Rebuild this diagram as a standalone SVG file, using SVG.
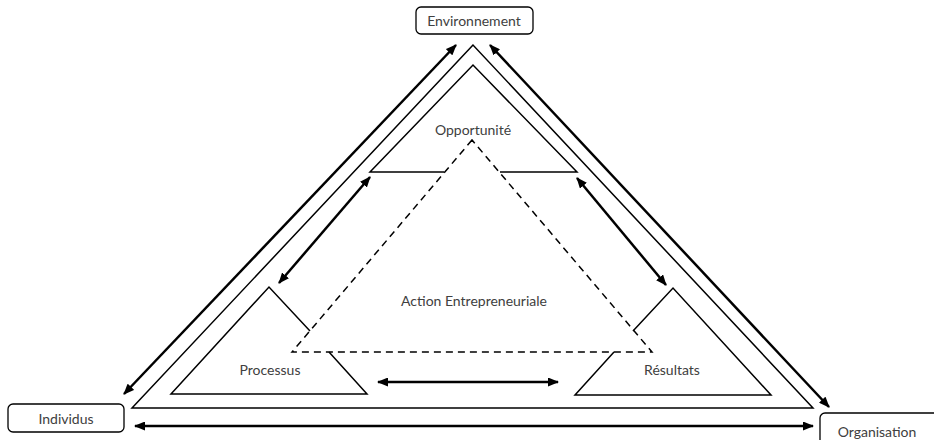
<svg xmlns="http://www.w3.org/2000/svg" width="934" height="440" viewBox="0 0 934 440">
<defs>
<style>
.t{font-family:"Lato","Liberation Sans",sans-serif;font-size:14px;fill:#404040;text-anchor:middle;dominant-baseline:central}
.thin{fill:none;stroke:#000;stroke-width:1.5;stroke-linejoin:miter}
.dash{fill:none;stroke:#000;stroke-width:1.5;stroke-dasharray:7,5}
.arr{fill:none;stroke:#000;stroke-width:2.5;marker-start:url(#ah);marker-end:url(#ah)}
.box{fill:#fff;stroke:#000;stroke-width:1.3}
</style>
<marker id="ah" markerUnits="userSpaceOnUse" markerWidth="11" markerHeight="9" refX="10" refY="4.5" orient="auto-start-reverse">
<path d="M0,0 L11,4.5 L0,9 z" fill="#000"/>
</marker>
</defs>
<rect width="934" height="440" fill="#fff"/>
<g id="outer-triangle">
<path class="thin" d="M473,45 L132,408 L813,408 Z"/>
</g>
<g id="opportunite">
<path class="thin" d="M444,172 L370,172 L473,65 L577,172 L500,172"/>
<text class="t" x="473" y="129">Opportunité</text>
</g>
<g id="processus">
<path class="thin" d="M310,331 L269,287 L171,394 L367,394 L329,352"/>
<text class="t" x="270" y="369">Processus</text>
</g>
<g id="resultats">
<path class="thin" d="M633,331 L673,288 L771,395 L575,395 L614,352"/>
<text class="t" x="672" y="369">Résultats</text>
</g>
<g id="action">
<path class="dash" d="M472,140 L292,352 L652,352 Z"/>
<text class="t" x="474" y="300">Action Entrepreneuriale</text>
</g>
<g id="environnement">
<rect class="box" x="416" y="7" width="117" height="27" rx="5"/>
<text class="t" x="474" y="20">Environnement</text>
</g>
<g id="individus">
<rect class="box" x="8" y="404" width="116" height="28" rx="5"/>
<text class="t" x="66" y="418">Individus</text>
</g>
<g id="organisation">
<rect class="box" x="820" y="413" width="130" height="40" rx="5"/>
<text class="t" x="877" y="431">Organisation</text>
</g>
<g id="connectors">
<line class="arr" x1="124" y1="394" x2="456" y2="45"/>
<line class="arr" x1="490" y1="45" x2="829" y2="407"/>
<line class="arr" x1="135" y1="426" x2="813" y2="426"/>
<line class="arr" x1="370" y1="177" x2="279" y2="283"/>
<line class="arr" x1="577" y1="178" x2="666" y2="285"/>
<line class="arr" x1="378" y1="382" x2="558" y2="382"/>
</g>
</svg>
